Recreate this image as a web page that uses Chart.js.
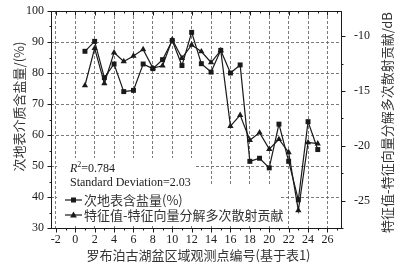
<!DOCTYPE html>
<html>
<head>
<meta charset="utf-8">
<script src="https://cdn.jsdelivr.net/npm/chart.js@4/dist/chart.umd.min.js"></script>
<style>
  html, body { margin: 0; padding: 0; background: #fff; }
  #wrap { width: 400px; height: 267px; position: relative; }
</style>
</head>
<body>
<div id="wrap"><canvas id="chart"></canvas></div>
<script>
// ── Data ───────────────────────────────────────────────────────────────────
const POINT_IDS = [1, 2, 3, 4, 5, 6, 7, 8, 9, 10, 11, 12, 13, 14, 15, 16, 17, 18, 19, 20, 21, 22, 23, 24, 25];
const SALT  = [87.0, 90.2, 78.5, 82.9, 74.0, 74.4, 82.9, 81.4, 84.3, 90.5, 82.4, 93.1, 83.0,
               80.3, 87.3, 80.0, 82.6, 51.5, 52.5, 49.4, 63.5, 51.5, 39.1, 64.3, 55.3];
const MULTI = [-14.5, -11.1, -14.3, -11.5, -12.3, -11.8, -11.2, -12.9, -12.7, -10.3, -12.0, -10.8, -11.4,
               -12.4, -11.3, -18.2, -17.2, -19.5, -18.8, -20.3, -19.4, -20.6, -25.9, -19.7, -19.8];

const X_TICKS  = [-2, 0, 2, 4, 6, 8, 10, 12, 14, 16, 18, 20, 22, 24, 26];
const Y_TICKS  = [30, 40, 50, 60, 70, 80, 90, 100];
const Y2_TICKS = [-25, -20, -15, -10];

const SALT_LABEL  = '次地表含盐量(%)';
const MULTI_LABEL = '特征值-特征向量分解多次散射贡献';
const Y_TITLE  = '次地表介质含盐量/(%)';
const Y2_TITLE = '特征值-特征向量分解多次散射贡献/dB';
const X_TITLE  = '罗布泊古湖盆区域观测点编号(基于表1)';
const R2_VALUE = '=0.784';
const SD_TEXT  = 'Standard Deviation=2.03';

const NUM_FONT = '12px "Liberation Serif", "DejaVu Serif", serif';
const CJK_FONT = '13px "Noto Sans CJK SC", sans-serif';
const INK = '#1a1a1a';

// ── Helpers ───────────────────────────────────────────────────────────────
function marker(ctx, style, x, y) {
  ctx.beginPath();
  if (style === 'rect') {
    ctx.rect(x - 2.5, y - 2.5, 5, 5);
  } else {
    ctx.moveTo(x, y - 3.6);
    ctx.lineTo(x + 3.4, y + 2.4);
    ctx.lineTo(x - 3.4, y + 2.4);
    ctx.closePath();
  }
  ctx.fill();
}

function minorValues(major, step) {
  return major.map(v => v + step);
}

// vertical axes: fixed width, no extra label padding at the ends
const fixWidth = w => s => { s.width = w; s.paddingTop = 0; s.paddingBottom = 0; };

// ── Extras: frame, tick marks, titles, in-plot legend ─────────────────────
const extras = {
  id: 'extras',
  beforeDatasetsDraw(chart) {
    const { ctx, chartArea: a } = chart;
    ctx.save();
    ctx.fillStyle = '#fff';
    ctx.fillRect(a.left + 6, a.top + 147, 137, 28);
    ctx.fillRect(a.left + 6, a.top + 175, 222, 40);
    ctx.restore();
  },
  afterDraw(chart) {
    const { ctx, chartArea: a, scales } = chart;
    const sx = scales.x, sy = scales.y, sy2 = scales.y2;
    ctx.save();

    // frame
    ctx.strokeStyle = INK;
    ctx.lineWidth = 1;
    ctx.setLineDash([]);
    ctx.strokeRect(Math.round(a.left) + 0.5, Math.round(a.top) + 0.5,
                   Math.round(a.right - a.left) - 1, Math.round(a.bottom - a.top));

    // tick marks
    const tick = (x1, y1, x2, y2) => {
      ctx.beginPath(); ctx.moveTo(x1, y1); ctx.lineTo(x2, y2); ctx.stroke();
    };
    const bottom = Math.round(a.bottom) + 0.5, top = Math.round(a.top) + 0.5;
    const left = Math.round(a.left) + 0.5, right = Math.round(a.right) - 0.5;

    X_TICKS.forEach(v => {
      const px = Math.round(sx.getPixelForValue(v)) + 0.5;
      tick(px, bottom, px, bottom + 4);
      tick(px, top, px, top + 4);
    });
    minorValues(X_TICKS, 1).forEach(v => {
      if (v > sx.max) return;
      const px = Math.round(sx.getPixelForValue(v)) + 0.5;
      tick(px, bottom, px, bottom + 2);
      tick(px, top, px, top + 2);
    });
    Y_TICKS.forEach(v => {
      const py = Math.round(sy.getPixelForValue(v)) + 0.5;
      tick(left - 4, py, left, py);
    });
    minorValues(Y_TICKS, 5).forEach(v => {
      if (v > sy.max) return;
      const py = Math.round(sy.getPixelForValue(v)) + 0.5;
      tick(left - 2, py, left, py);
    });
    Y2_TICKS.forEach(v => {
      const py = Math.round(sy2.getPixelForValue(v)) + 0.5;
      tick(right, py, right + 4, py);
    });
    minorValues(Y2_TICKS, 2.5).concat([-27.5]).forEach(v => {
      if (v > sy2.max || v < sy2.min) return;
      const py = Math.round(sy2.getPixelForValue(v)) + 0.5;
      tick(right, py, right + 2, py);
    });

    // axis titles
    ctx.fillStyle = '#333';
    ctx.font = CJK_FONT;
    ctx.textAlign = 'center';
    ctx.textBaseline = 'middle';
    ctx.save();
    ctx.translate(19, (a.top + a.bottom) / 2 - 13);
    ctx.rotate(-Math.PI / 2);
    ctx.fillText(Y_TITLE, 0, 0);
    ctx.restore();
    ctx.save();
    ctx.translate(387, (a.top + a.bottom) / 2 + 3);
    ctx.rotate(-Math.PI / 2);
    ctx.fillText(Y2_TITLE, 0, 0);
    ctx.restore();
    ctx.fillText(X_TITLE, (a.left + a.right) / 2 + 2, 255);

    // statistics
    ctx.fillStyle = INK;
    ctx.textAlign = 'left';
    ctx.textBaseline = 'alphabetic';
    const tx = a.left + 19;
    let ty = a.top + 161;
    ctx.font = 'italic ' + NUM_FONT;
    ctx.fillText('R', tx, ty);
    let w = ctx.measureText('R').width;
    ctx.font = '8px "Liberation Serif", serif';
    ctx.fillText('2', tx + w, ty - 5);
    w += ctx.measureText('2').width;
    ctx.font = NUM_FONT;
    ctx.fillText(R2_VALUE, tx + w, ty);
    ctx.fillText(SD_TEXT, tx, ty + 14);

    // legend
    const entries = [[SALT_LABEL, 'rect'], [MULTI_LABEL, 'triangle']];
    entries.forEach(([label, style], i) => {
      const ly = a.top + 189 + i * 15;
      ctx.strokeStyle = INK;
      ctx.lineWidth = 1.2;
      tick(a.left + 14, ly, a.left + 31, ly);
      ctx.fillStyle = INK;
      marker(ctx, style, a.left + 22.5, ly);
      ctx.fillStyle = '#333';
      ctx.font = CJK_FONT;
      ctx.textBaseline = 'middle';
      ctx.fillText(label, a.left + 33, ly);
    });

    ctx.restore();
  }
};

// ── Chart ─────────────────────────────────────────────────────────────────
const gridStyle = { color: '#6b6b6b', lineWidth: 0.9, drawTicks: false };
const tickFont = { family: '"Liberation Serif", "DejaVu Serif", serif', size: 12 };

new Chart(document.getElementById('chart'), {
  type: 'line',
  data: {
    datasets: [
      {
        label: SALT_LABEL,
        data: POINT_IDS.map((id, i) => ({ x: id, y: SALT[i] })),
        yAxisID: 'y',
        borderColor: INK,
        backgroundColor: INK,
        borderWidth: 1.2,
        pointStyle: 'rect',
        pointRadius: 3.5,
        pointBorderWidth: 0,
        tension: 0
      },
      {
        label: MULTI_LABEL,
        data: POINT_IDS.map((id, i) => ({ x: id, y: MULTI[i] })),
        yAxisID: 'y2',
        borderColor: INK,
        backgroundColor: INK,
        borderWidth: 1.2,
        pointStyle: 'triangle',
        pointRadius: 3.6,
        pointBorderWidth: 0,
        tension: 0
      }
    ]
  },
  options: {
    responsive: true,
    maintainAspectRatio: false,
    animation: false,
    events: [],
    layout: { padding: { top: 11, left: 0, right: 0, bottom: 0 } },
    plugins: { legend: { display: false }, tooltip: { enabled: false } },
    scales: {
      x: {
        type: 'linear',
        min: -2.5,
        max: 27.5,
        afterBuildTicks: s => { s.ticks = X_TICKS.map(v => ({ value: v })); },
        afterFit: s => { s.height = 39; },
        grid: gridStyle,
        border: { display: false, dash: [3, 2] },
        ticks: { font: tickFont, color: INK, padding: 5, maxRotation: 0, autoSkip: false }
      },
      y: {
        position: 'left',
        min: 30,
        max: 100,
        afterBuildTicks: s => { s.ticks = Y_TICKS.map(v => ({ value: v })); },
        afterFit: fixWidth(51),
        grid: gridStyle,
        border: { display: false, dash: [3, 2] },
        ticks: { font: tickFont, color: INK, padding: 7 }
      },
      y2: {
        position: 'right',
        min: -27.5,
        max: -7.7,
        afterBuildTicks: s => { s.ticks = Y2_TICKS.map(v => ({ value: v })); },
        afterFit: fixWidth(58),
        grid: { display: false, drawTicks: false },
        border: { display: false },
        ticks: { font: tickFont, color: INK, padding: 12 }
      }
    }
  },
  plugins: [extras]
});
</script>
</body>
</html>
